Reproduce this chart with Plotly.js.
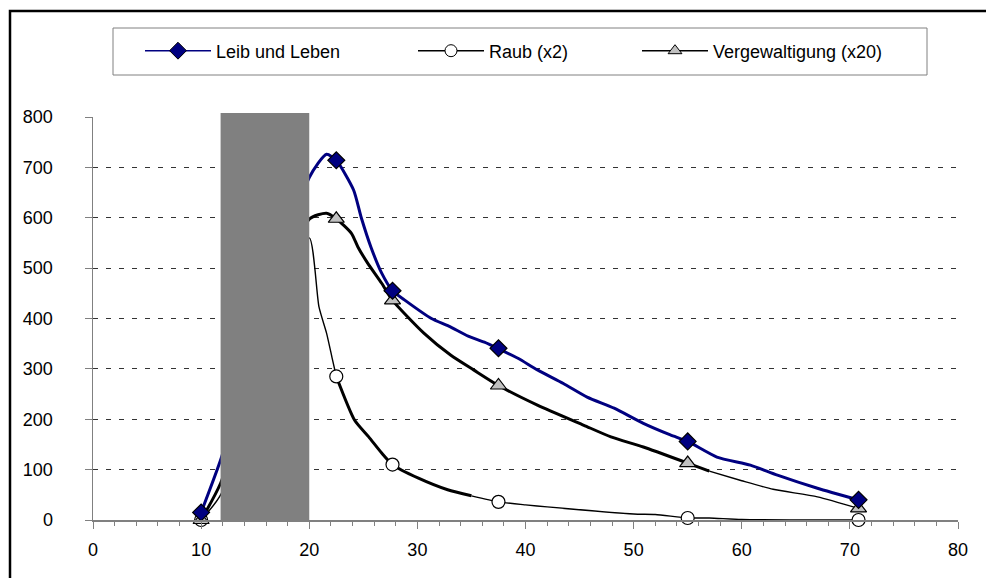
<!DOCTYPE html>
<html>
<head>
<meta charset="utf-8">
<script src="https://cdn.plot.ly/plotly-3.0.1.min.js"></script>
<style>
html,body{margin:0;padding:0;background:#fff;}
#chart{width:986px;height:578px;}
</style>
</head>
<body>
<div id="chart"></div>
<script>
// Series names
const seriesNames = ["Leib und Leben", "Raub (x2)", "Vergewaltigung (x20)"];

// Marker points
const markerX = [10, 22.5, 27.7, 37.5, 55, 70.8];
const leibMarkers = [15, 714, 455, 341, 156, 40];
const raubMarkers = [0, 285, 110, 36, 4, 0];
const vergMarkers = [0, 598, 436, 267, 113, 23];

// Curve traces
const leibCurveX = [10, 11.8, 20, 21.6, 22.5, 24.1, 24.8, 25.7, 26.7, 27.7, 28.8, 31.3, 32.9, 34.7, 36.2, 37.5, 39.3, 41.1, 43.5, 45.7, 48.2, 50.9, 53.4, 55, 57.7, 60.8, 63.3, 67, 70.8];
const leibCurveY = [15, 119, 680, 726, 714, 655, 601, 542, 490, 455, 437, 400, 385, 365, 353, 340, 321, 298, 271, 244, 222, 192, 169, 156, 125, 109, 89, 63, 40];

const vergThickX = [10, 11.8, 20, 21.6, 22.5, 23.9, 24.5, 25.4, 26.7, 27.7, 30.6, 33.1, 35.2, 37.5, 41.1, 45.4, 47.9, 50.9, 55, 57];
const vergThickY = [0, 73, 597, 609, 598, 569, 542, 510, 470, 436, 371, 327, 298, 267, 228, 188, 165, 145, 113, 97];
const vergThinX = [57, 60, 62.9, 67, 70.8];
const vergThinY = [97, 78, 61, 46, 23];

const raubThin1X = [10, 11.8, 20, 20.9, 21.6, 22.1, 22.5];
const raubThin1Y = [0, 50, 560, 423, 371, 323, 285];
const raubThickX = [22.5, 24.2, 25.5, 26.7, 27.7, 30.1, 32.8, 35];
const raubThickY = [285, 198, 165, 133, 110, 83, 60, 48];
const raubThin2X = [35, 37.5, 40, 42, 50, 52, 55, 57, 60, 70.8];
const raubThin2Y = [48, 36, 30, 26, 12, 11, 4, 4, 1, 0];

// Shaded band
const bandX = [11.8, 20];

// Axis ticks
const xTicks = [0, 10, 20, 30, 40, 50, 60, 70, 80];
const yTicks = [0, 100, 200, 300, 400, 500, 600, 700, 800];

const FONT = "'Liberation Sans', Arial, sans-serif";
const FS = 18;
const navy = "#000080";

function line(x, y, color, w) {
  return {x: x, y: y, type: "scatter", mode: "lines", showlegend: false, hoverinfo: "skip",
          line: {color: color, width: w, shape: "spline", smoothing: 0.6}, cliponaxis: false};
}
function marks(y, sym, fill, size) {
  return {x: markerX, y: y, type: "scatter", mode: "markers", showlegend: false, cliponaxis: false,
          marker: {symbol: sym, size: size, color: fill, line: {color: "#000", width: 1.2}}};
}

const traces = [
  line(raubThin1X, raubThin1Y, "#000", 1.4),
  line(raubThickX, raubThickY, "#000", 3),
  line(raubThin2X, raubThin2Y, "#000", 1.4),
  line(vergThickX, vergThickY, "#000", 3),
  line(vergThinX, vergThinY, "#000", 1.4),
  line(leibCurveX, leibCurveY, navy, 3),
  marks(raubMarkers, "circle", "#fff", 13),
  marks(vergMarkers, "triangle-up", "#c0c0c0", 14),
  marks(leibMarkers, "diamond", navy, 13),
  // legend entries
  {x: [null], y: [null], type: "scatter", mode: "lines+markers", name: seriesNames[0], legend: "legend",
   line: {color: navy, width: 1.5}, marker: {symbol: "diamond", size: 13, color: navy, line: {color: "#000", width: 1}}},
  {x: [null], y: [null], type: "scatter", mode: "lines+markers", name: seriesNames[1], legend: "legend2",
   line: {color: "#000", width: 1.5}, marker: {symbol: "circle", size: 12, color: "#fff", line: {color: "#000", width: 1}}},
  {x: [null], y: [null], type: "scatter", mode: "lines+markers", name: seriesNames[2], legend: "legend3",
   line: {color: "#000", width: 1.5}, marker: {symbol: "triangle-up", size: 12, color: "#c0c0c0", line: {color: "#000", width: 1}}}
];

const L = 93, R = 28, T = 117, B = 58;
const PW = 986 - L - R, PH = 578 - T - B;
const px2x = p => (p - L) / PW;
const py2y = p => (578 - B - p) / PH;

const legendCommon = {orientation: "h", xanchor: "left", yanchor: "middle", y: py2y(51),
  bgcolor: "rgba(0,0,0,0)", borderwidth: 0, itemwidth: 66, font: {family: FONT, size: FS, color: "#000"}};

const layout = {
  width: 986, height: 578,
  margin: {l: L, r: R, t: T, b: B},
  paper_bgcolor: "#fff", plot_bgcolor: "#fff",
  font: {family: FONT, size: FS, color: "#000"},
  xaxis: {range: [0, 80], tickvals: xTicks, ticktext: xTicks.map(String), showgrid: false, zeroline: false,
          showline: true, linecolor: "#808080", linewidth: 1.5, ticks: "outside", ticklen: 7, tickcolor: "#808080",
          tickfont: {family: FONT, size: FS}, ticklabelstandoff: 6, fixedrange: true,
          minor: {dtick: 2, tick0: 0, ticks: "outside", ticklen: 4, tickcolor: "#808080", showgrid: false}},
  yaxis: {range: [0, 800], tickvals: yTicks, ticktext: yTicks.map(String), showgrid: true, gridcolor: "#333",
          griddash: "5px,8px", gridwidth: 1, zeroline: false,
          showline: true, linecolor: "#808080", linewidth: 1.5, ticks: "outside", ticklen: 7, tickcolor: "#808080",
          tickfont: {family: FONT, size: FS}, ticklabelstandoff: 28, fixedrange: true},
  legend: Object.assign({}, legendCommon, {x: px2x(140)}),
  legend2: Object.assign({}, legendCommon, {x: px2x(413)}),
  legend3: Object.assign({}, legendCommon, {x: px2x(637)}),
  shapes: [
    {type: "rect", xref: "x", yref: "paper", x0: bandX[0], x1: bandX[1], y0: 0, y1: 1.01,
     fillcolor: "#808080", line: {width: 0}, layer: "above"},
    {type: "rect", xref: "paper", yref: "paper", x0: px2x(113), x1: px2x(927), y0: py2y(75), y1: py2y(28),
     line: {color: "#808080", width: 1}, layer: "below"},
    {type: "path", xref: "paper", yref: "paper",
     path: `M ${px2x(10)} ${py2y(600)} L ${px2x(10)} ${py2y(11)} L ${px2x(1000)} ${py2y(11)}`,
     line: {color: "#000", width: 2.5}}
  ]
};

Plotly.newPlot("chart", traces, layout, {displayModeBar: false, staticPlot: true});
</script>
</body>
</html>
